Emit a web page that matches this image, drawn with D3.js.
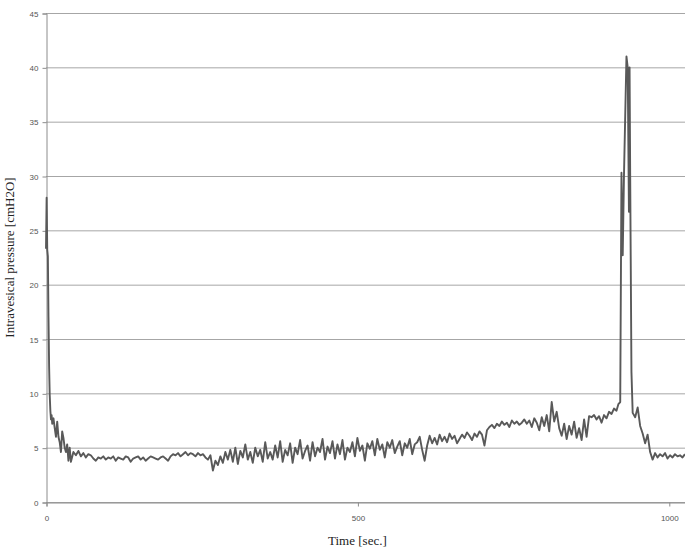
<!DOCTYPE html>
<html>
<head>
<meta charset="utf-8">
<script src="https://cdn.jsdelivr.net/npm/d3@7"></script>
<style>
  body { margin: 0; background: #fff; }
  .tick text { font-family: "Liberation Sans", Arial, sans-serif; font-size: 8px; fill: #555; }
  .axis-title { font-family: "Liberation Serif", "DejaVu Serif", serif; font-size: 13px; fill: #222; }
</style>
</head>
<body>
<div id="chart-container"></div>
<script>
"use strict"

// early part, sampled irregularly (sec / cmH2O)
const startTime = [0, 1, 2, 3, 4, 5, 6, 7, 8, 9, 10, 12, 14, 16, 18, 20, 22, 24, 26, 28, 30, 32, 34, 36, 38];
const startPressure = [23.3, 28.0, 23.2, 22.6, 17.0, 12.5, 9.8, 8.4, 7.6, 8.0, 7.2, 7.7, 6.8, 6.0, 7.4, 6.0, 5.5, 4.6, 6.5, 5.9, 5.0, 4.6, 5.3, 3.8, 5.0];

// filling phase, one reading every 4 sec from t = 40
const fillStart = 40;
const fillStep = 4;
const fillPressure = [
  3.7, 4.6, 4.3, 4.7, 4.2, 4.5, 4.1, 4.4, 4.3, 4.0, 3.8, 4.1, 4.0, 4.2, 3.9,
  4.1, 4.0, 4.2, 3.8, 4.1, 4.0, 3.9, 4.2, 4.1, 3.7, 4.0, 4.1, 4.2, 3.9, 4.1, 3.8, 4.0, 4.2, 4.1, 4.0, 3.9, 4.1, 4.2, 4.0, 3.8,
  4.2, 4.4, 4.3, 4.5, 4.2, 4.4, 4.6, 4.3, 4.5, 4.4, 4.2, 4.5, 4.3, 4.4, 4.1, 3.9, 4.3,
  2.9, 3.8, 3.4, 4.2, 3.6, 4.6, 3.9, 4.8, 3.7, 5.0, 3.5, 4.7, 4.1, 5.3, 3.9, 4.6, 3.6, 5.0, 4.2, 4.8, 3.7, 5.5, 4.0, 4.6,
  3.9, 5.2, 4.1, 5.6, 3.7, 4.8, 4.3, 5.4, 3.6, 5.0, 4.4, 5.7, 4.0, 4.7, 5.2, 3.8, 5.5, 4.2, 5.0, 4.6, 5.8, 3.9, 5.1, 4.5, 5.6,
  4.0, 5.3, 4.4, 5.7, 3.9, 5.0, 4.6, 5.5, 4.2, 5.9, 4.7, 5.2, 3.8, 5.4, 4.9, 5.6, 4.3, 5.8, 4.8, 5.3, 4.1, 5.5, 5.0, 5.7, 4.5,
  5.1, 5.6, 4.3, 5.4, 5.0, 5.8, 4.4, 5.3, 5.5, 6.0, 4.8, 3.8, 5.2, 6.1, 5.4, 5.9, 5.3, 6.2, 5.6, 6.0, 5.5, 6.3, 5.8, 6.1, 5.4,
  5.8, 6.2, 5.9, 6.4, 6.1, 5.7, 6.3, 6.0, 6.5, 6.2, 5.2, 6.6, 6.9, 7.1, 6.8, 7.2, 7.0, 7.4, 7.1, 7.3, 6.9, 7.5, 7.2, 7.4, 7.1,
  7.3, 7.6, 7.2, 7.5, 6.9, 7.7, 7.3, 6.6, 7.8, 7.0, 8.0, 6.5, 9.2, 7.4, 8.3, 6.8, 6.1, 7.2, 5.8, 7.0, 6.2, 7.4, 5.9, 6.8, 5.7,
  7.6, 6.0, 7.9, 7.8, 8.0, 7.6, 7.9, 7.3, 8.0, 7.7, 8.3, 8.1, 8.6, 8.4
];

// voiding contraction
const peakTime = [919, 922, 924, 926, 928, 930, 932, 934, 936, 937, 938, 940, 942];
const peakPressure = [9.0, 9.2, 30.3, 22.7, 30.0, 35.5, 41.0, 40.0, 26.7, 40.0, 30.0, 12.0, 8.2];

// after voiding
const endTime = [946, 950, 954, 958, 962, 966, 970, 974, 978, 982, 986, 990, 994, 998, 1002, 1006, 1010, 1014, 1018, 1022, 1026];
const endPressure = [7.8, 8.7, 7.0, 6.3, 5.4, 6.2, 4.6, 3.9, 4.5, 4.1, 4.4, 4.2, 4.5, 4.0, 4.3, 4.1, 4.4, 4.2, 4.3, 4.1, 4.4];

const yTicks = [0, 5, 10, 15, 20, 25, 30, 35, 40, 45];
const xTicks = [0, 500, 1000];

document.addEventListener('DOMContentLoaded', function(){
  drawChart(buildDataset());
});

function buildDataset(){
  let data = [];
  startTime.forEach((t, i) => data.push([t, startPressure[i]]));
  fillPressure.forEach((v, i) => data.push([fillStart + i * fillStep, v]));
  peakTime.forEach((t, i) => data.push([t, peakPressure[i]]));
  endTime.forEach((t, i) => data.push([t, endPressure[i]]));
  return data;
}

function drawChart(dataset){
  let svgWidth = 685;
  let svgHeight = 556;
  let left = 46, right = 685, top = 13, bottom = 502;

  var svg = d3.select('#chart-container')
    .append('svg')
    .attr('width', svgWidth)
    .attr('height', svgHeight);

  let xScale = d3.scaleLinear()
    .domain([0, 1026])
    .range([left, right]);

  let yScale = d3.scaleLinear()
    .domain([0, 45])
    .range([bottom, top]);

  // gridlines
  svg.append('g')
    .selectAll('line')
    .data(yTicks)
    .enter()
    .append('line')
    .attr('x1', left)
    .attr('x2', right)
    .attr('y1', d => yScale(d) + 0.5)
    .attr('y2', d => yScale(d) + 0.5)
    .attr('stroke', '#a6a6a6')
    .attr('stroke-width', 1);

  // y axis
  const yAxis = d3.axisLeft(yScale).tickValues(yTicks).tickSize(4).tickPadding(4);
  let gy = svg.append('g')
    .attr('transform', 'translate(' + (left + 0.5) + ', 0.5)')
    .call(yAxis);
  gy.select('.domain').attr('stroke', '#8c8c8c');
  gy.selectAll('.tick line').attr('stroke', '#8c8c8c');

  // x axis
  const xAxis = d3.axisBottom(xScale).tickValues(xTicks).tickFormat(d3.format('d')).tickSize(4).tickPadding(9);
  let gx = svg.append('g')
    .attr('transform', 'translate(0.5, ' + (bottom + 0.5) + ')')
    .call(xAxis);
  gx.select('.domain').attr('stroke', '#8c8c8c');
  gx.selectAll('.tick line').attr('stroke', '#8c8c8c');

  // series
  const line = d3.line()
    .x(d => xScale(d[0]))
    .y(d => yScale(d[1]));

  svg.append('path')
    .datum(dataset)
    .attr('d', line)
    .attr('fill', 'none')
    .attr('stroke', '#595959')
    .attr('stroke-width', 1.9)
    .attr('stroke-linejoin', 'round');

  // axis titles
  svg.append('text')
    .attr('class', 'axis-title')
    .attr('transform', 'translate(14, ' + ((top + bottom) / 2) + ') rotate(-90)')
    .attr('text-anchor', 'middle')
    .text('Intravesical pressure [cmH2O]');

  svg.append('text')
    .attr('class', 'axis-title')
    .attr('x', xScale(500))
    .attr('y', 545)
    .attr('text-anchor', 'middle')
    .text('Time [sec.]');
}
</script>
</body>
</html>
